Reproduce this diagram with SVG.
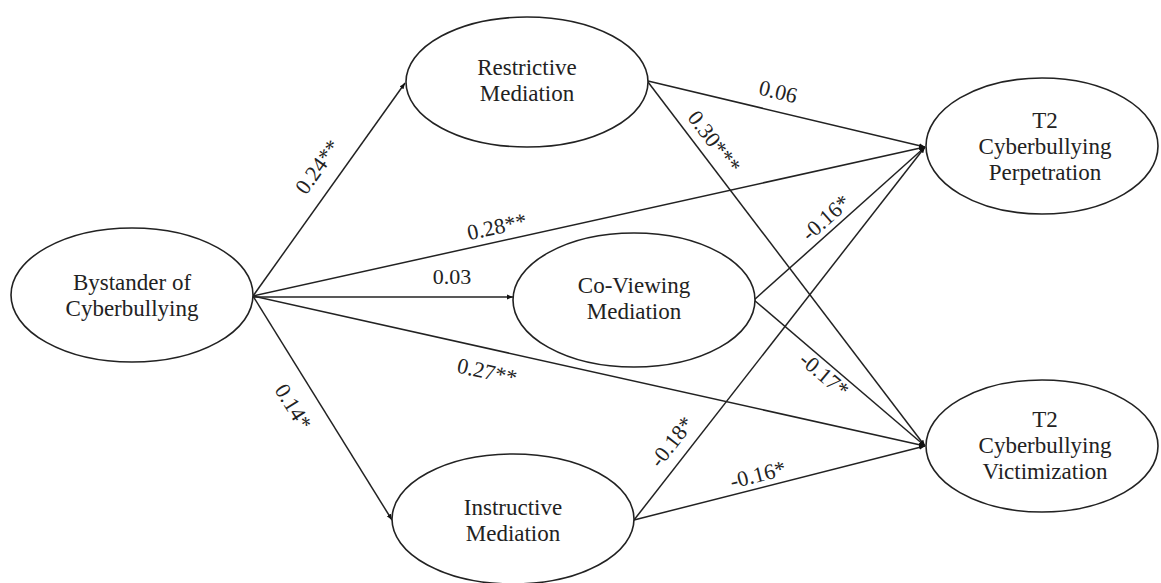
<svg xmlns="http://www.w3.org/2000/svg" width="1161" height="583" viewBox="0 0 1161 583">
<style>
text{font-family:'Liberation Serif','Times New Roman',serif;fill:#222}
.node ellipse{fill:#fff;stroke:#222;stroke-width:1.6}
.node text{font-size:23px;text-anchor:middle}
.edges line{stroke:#222;stroke-width:1.5;marker-end:url(#arr)}
.lbl{font-size:22px;text-anchor:middle}
</style>
<defs>
<marker id="arr" viewBox="0 0 10 10" refX="10" refY="5" markerWidth="6" markerHeight="6" orient="auto" markerUnits="userSpaceOnUse">
<path d="M0,1 L10,5 L0,9 Z" fill="#111"/>
</marker>
</defs>
<rect width="1161" height="583" fill="#fff"/>
<g class="edges">
<line x1="253" y1="296" x2="405" y2="83"/>
<line x1="253" y1="296" x2="925" y2="147"/>
<line x1="253" y1="297" x2="513" y2="297"/>
<line x1="253" y1="296" x2="925" y2="446"/>
<line x1="253" y1="296" x2="392" y2="520"/>
<line x1="648" y1="81" x2="925" y2="147"/>
<line x1="648" y1="82" x2="925" y2="446"/>
<line x1="754" y1="300" x2="925" y2="147"/>
<line x1="754" y1="300" x2="925" y2="446"/>
<line x1="634" y1="520" x2="925" y2="147"/>
<line x1="634" y1="520" x2="925" y2="446"/>
</g>
<g id="labels">
<text class="lbl" transform="translate(318,167) rotate(-54.4)" y="7">0.24**</text>
<text class="lbl" transform="translate(497,227) rotate(-12.4)" y="7">0.28**</text>
<text class="lbl" x="452" y="284">0.03</text>
<text class="lbl" transform="translate(487,372) rotate(12.5)" y="7">0.27**</text>
<text class="lbl" transform="translate(293,407) rotate(58.2)" y="7">0.14*</text>
<text class="lbl" transform="translate(778,92) rotate(13.4)" y="7">0.06</text>
<text class="lbl" transform="translate(714,142) rotate(52.7)" y="7">0.30***</text>
<text class="lbl" transform="translate(826,218) rotate(-41.6)" y="7">-0.16*</text>
<text class="lbl" transform="translate(824,375) rotate(40.3)" y="7">-0.17*</text>
<text class="lbl" transform="translate(672,442) rotate(-52)" y="7">-0.18*</text>
<text class="lbl" transform="translate(758,475) rotate(-14.5)" y="7">-0.16*</text>
</g>
<g id="bystander" class="node">
<ellipse cx="132" cy="295" rx="121" ry="67"/>
<text x="132" y="290">Bystander of</text>
<text x="132" y="316">Cyberbullying</text>
</g>
<g id="restrictive" class="node">
<ellipse cx="527" cy="82" rx="121" ry="65"/>
<text x="527" y="75">Restrictive</text>
<text x="527" y="101">Mediation</text>
</g>
<g id="coviewing" class="node">
<ellipse cx="634" cy="300" rx="121" ry="67"/>
<text x="634" y="293">Co-Viewing</text>
<text x="634" y="319">Mediation</text>
</g>
<g id="instructive" class="node">
<ellipse cx="513" cy="519" rx="121" ry="65"/>
<text x="513" y="515">Instructive</text>
<text x="513" y="541">Mediation</text>
</g>
<g id="perpetration" class="node">
<ellipse cx="1042" cy="146" rx="116" ry="68"/>
<text x="1045" y="128">T2</text>
<text x="1045" y="154">Cyberbullying</text>
<text x="1045" y="180">Perpetration</text>
</g>
<g id="victimization" class="node">
<ellipse cx="1042" cy="446" rx="116" ry="66"/>
<text x="1045" y="427">T2</text>
<text x="1045" y="453">Cyberbullying</text>
<text x="1045" y="479">Victimization</text>
</g>
</svg>
